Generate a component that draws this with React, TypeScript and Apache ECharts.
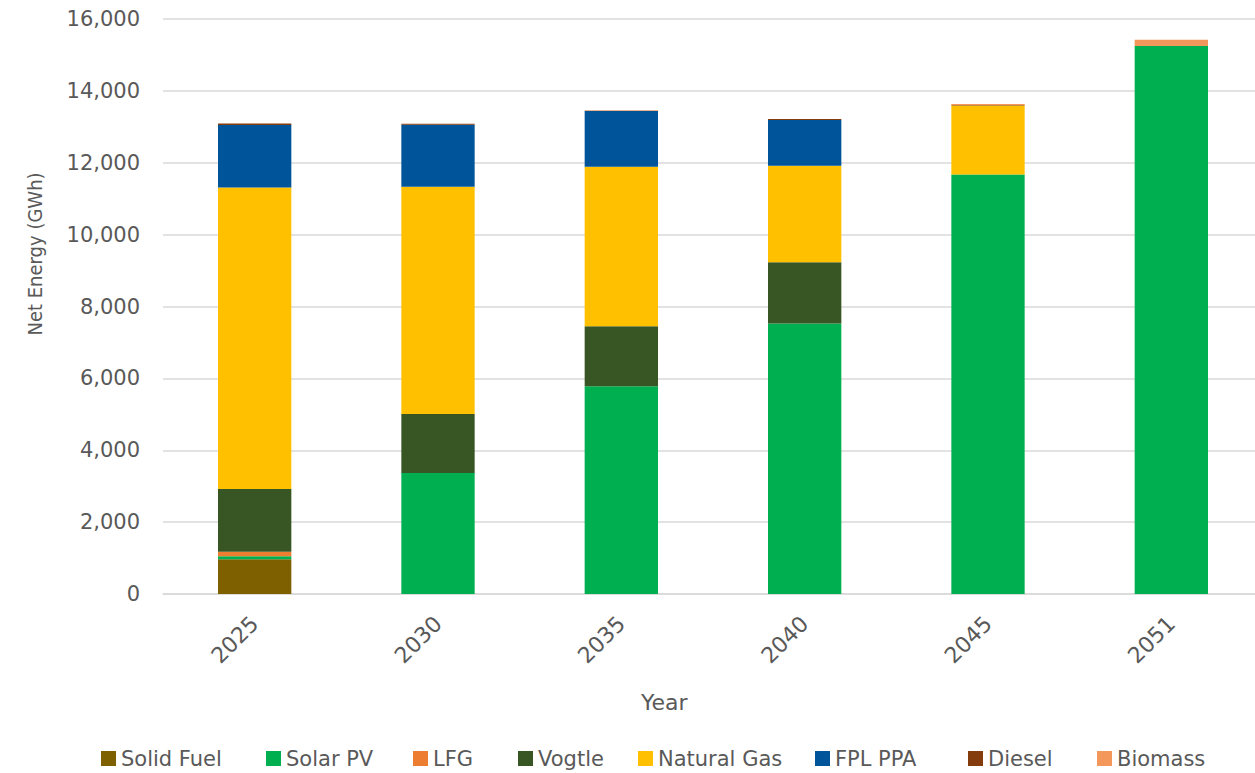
import React, { useEffect, useRef } from "react";
import * as echarts from "echarts";

const years = ["2025", "2030", "2035", "2040", "2045", "2051"];
const solidFuel = [970, 0, 0, 0, 0, 0];
const solarPV = [80, 3370, 5780, 7530, 11670, 15250];
const lfg = [125, 0, 0, 0, 0, 0];
const vogtle = [1745, 1640, 1670, 1700, 0, 0];
const naturalGas = [8390, 6320, 4440, 2690, 1920, 0];
const fplPPA = [1740, 1730, 1550, 1270, 0, 0];
const diesel = [40, 25, 10, 25, 15, 0];
const biomass = [0, 0, 10, 0, 30, 170];

const seriesDefs = [
  { name: "Solid Fuel", data: solidFuel, color: "#7F6000" },
  { name: "Solar PV", data: solarPV, color: "#00B050" },
  { name: "LFG", data: lfg, color: "#ED7D31" },
  { name: "Vogtle", data: vogtle, color: "#375623" },
  { name: "Natural Gas", data: naturalGas, color: "#FFC000" },
  { name: "FPL PPA", data: fplPPA, color: "#00559A" },
  { name: "Diesel", data: diesel, color: "#843C0C" },
  { name: "Biomass", data: biomass, color: "#F4975B" },
];

const legendLeft = [101, 266, 413, 518, 638, 815, 968, 1097];

const FONT = "DejaVu Sans";
const TXT = "#595959";

export default function App() {
  const ref = useRef<HTMLDivElement>(null);
  useEffect(() => {
    if (!ref.current) return;
    const chart = echarts.init(ref.current, undefined, { renderer: "svg" });
    chart.setOption({
      animation: false,
      backgroundColor: "#ffffff",
      grid: { left: 163, right: 0, top: 19, bottom: 179, containLabel: false },
      legend: seriesDefs.map((s, i) => ({
        data: [s.name],
        left: legendLeft[i],
        top: 748,
        padding: 0,
        itemWidth: 15,
        itemHeight: 15,
        itemGap: 0,
        icon: "rect",
        textStyle: { fontFamily: FONT, fontSize: 21, color: TXT },
      })),
      xAxis: {
        type: "category",
        data: years,
        axisTick: { show: false },
        axisLine: { show: true, lineStyle: { color: "#D9D9D9", width: 1.5 } },
        axisLabel: {
          rotate: 45,
          margin: 26,
          fontFamily: FONT,
          fontSize: 22,
          color: TXT,
        },
      },
      yAxis: {
        type: "value",
        min: 0,
        max: 16000,
        interval: 2000,
        axisLine: { show: false },
        axisTick: { show: false },
        splitLine: { lineStyle: { color: "#D9D9D9", width: 1.5 } },
        axisLabel: {
          margin: 23,
          fontFamily: FONT,
          fontSize: 21,
          color: TXT,
          formatter: (v: number) => v.toLocaleString("en-US"),
        },
      },
      graphic: [
        {
          type: "text",
          left: 641,
          top: 691,
          style: { text: "Year", fontFamily: FONT, fontSize: 22, fill: TXT },
        },
        {
          type: "text",
          x: 35,
          y: 254,
          rotation: Math.PI / 2,
          style: {
            text: "Net Energy (GWh)",
            fontFamily: "DejaVu Sans Condensed, DejaVu Sans",
            fontSize: 20,
            fill: TXT,
            align: "center",
            verticalAlign: "middle",
          },
        },
      ],
      series: seriesDefs.map((s) => ({
        name: s.name,
        type: "bar",
        stack: "total",
        barWidth: "40%",
        data: s.data,
        itemStyle: { color: s.color },
      })),
    });
    return () => chart.dispose();
  }, []);
  return (
    <div
      ref={ref}
      style={{ position: "fixed", left: 0, top: 0, width: 1263, height: 773 }}
    />
  );
}
